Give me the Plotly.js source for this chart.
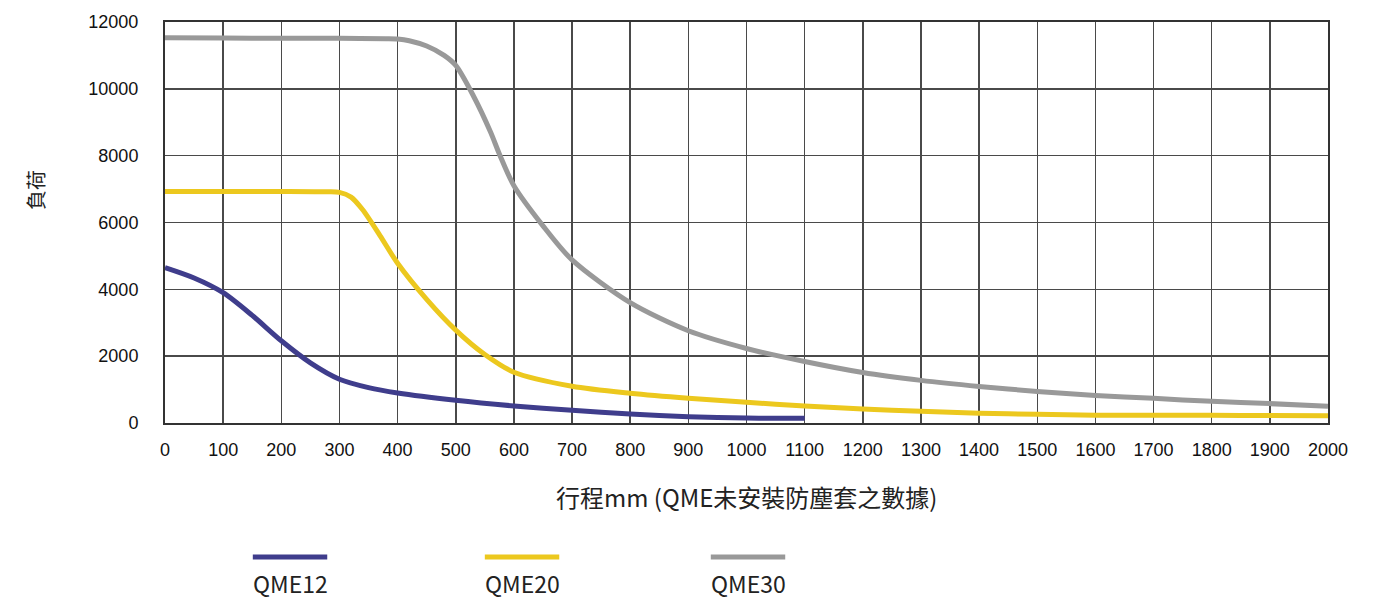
<!DOCTYPE html>
<html>
<head>
<meta charset="utf-8">
<script src="https://cdn.plot.ly/plotly-3.0.1.min.js"></script>
<style>html,body{margin:0;padding:0;background:#fff;}#chart{width:1395px;height:599px;}</style>
</head>
<body>
<div id="chart"></div>
<script>
const seriesNames = ["QME12", "QME20", "QME30"];
const seriesColors = ["#3f3d8c", "#ecc81e", "#999999"];

const x12 = [0, 50, 100, 150, 200, 250, 300, 350, 400, 500, 600, 700, 800, 900, 1000, 1100];
const y12 = [4650, 4340, 3900, 3220, 2460, 1800, 1310, 1060, 900, 680, 510, 380, 270, 190, 150, 140];

const x20 = [0, 100, 200, 280, 300, 320, 340, 370, 400, 450, 500, 550, 600, 700, 800, 900, 1000, 1100, 1200, 1300, 1400, 1500, 1600, 1700, 1800, 1900, 2000];
const y20 = [6930, 6930, 6930, 6920, 6900, 6760, 6380, 5600, 4780, 3700, 2780, 2050, 1520, 1100, 890, 740, 620, 510, 420, 350, 290, 260, 235, 230, 230, 225, 220];

const x30 = [0, 100, 200, 300, 380, 400, 420, 450, 480, 500, 530, 560, 575, 600, 650, 700, 800, 900, 1000, 1100, 1200, 1300, 1400, 1500, 1600, 1700, 1800, 1900, 2000];
const y30 = [11530, 11520, 11510, 11510, 11500, 11490, 11440, 11280, 11000, 10700, 9800, 8700, 8050, 7100, 5900, 4880, 3600, 2760, 2230, 1840, 1510, 1275, 1095, 945, 826, 737, 648, 580, 500];

const yTickVals = [0, 2000, 4000, 6000, 8000, 10000, 12000];
const xTickVals = [0, 100, 200, 300, 400, 500, 600, 700, 800, 900, 1000, 1100, 1200, 1300, 1400, 1500, 1600, 1700, 1800, 1900, 2000];
const xTitle = "行程mm (QME未安裝防塵套之數據)";
const yTitle = "負荷";

const xs = [x12, x20, x30];
const ys = [y12, y20, y30];

const traces = seriesNames.map((n, i) => ({
  x: xs[i], y: ys[i], name: n, type: "scatter", mode: "lines",
  line: {color: seriesColors[i], width: 5, shape: "spline", smoothing: 0.8},
  showlegend: false, hoverinfo: "skip"
}));

const legendX = [0.1075, 0.307, 0.5013];
const shapes = seriesNames.map((n, i) => ({
  type: "line", xref: "paper", yref: "paper",
  x0: legendX[i] - 0.032, x1: legendX[i] + 0.032, y0: -0.334, y1: -0.334,
  line: {color: seriesColors[i], width: 5}
}));
const annotations = seriesNames.map((n, i) => ({
  text: n, xref: "paper", yref: "paper", x: legendX[i], y: -0.4,
  xanchor: "center", yanchor: "middle", showarrow: false,
  font: {family: "Noto Sans CJK TC, Lato, sans-serif", size: 23, color: "#222"}
}));
annotations.push({
  text: yTitle, xref: "paper", yref: "paper", x: -0.1118, y: 0.581,
  xanchor: "center", yanchor: "middle", showarrow: false, textangle: -90,
  font: {family: "Noto Sans CJK TC, sans-serif", size: 20, color: "#222"}
});
annotations.push({
  text: xTitle, xref: "paper", yref: "paper", x: 0.5, y: -0.184,
  xanchor: "center", yanchor: "middle", showarrow: false,
  font: {family: "Noto Sans CJK TC, sans-serif", size: 24, color: "#222"}
});

const layout = {
  width: 1395, height: 599,
  margin: {l: 165, r: 67, t: 22, b: 176, pad: 0},
  paper_bgcolor: "#fff", plot_bgcolor: "#fff",
  xaxis: {
    range: [0, 2000], tickvals: xTickVals, ticktext: xTickVals.map(String),
    showgrid: true, gridcolor: "#4a4a4a", gridwidth: 1.5,
    showline: true, linecolor: "#333", linewidth: 2, mirror: true,
    zeroline: false, ticks: "", ticklabelstandoff: 9,
    tickfont: {family: "Liberation Sans, Arial, sans-serif", size: 18, color: "#111"}
  },
  yaxis: {
    range: [0, 12000], tickvals: yTickVals, ticktext: yTickVals.map(String),
    showgrid: true, gridcolor: "#4a4a4a", gridwidth: 1.5,
    showline: true, linecolor: "#333", linewidth: 2, mirror: true,
    zeroline: false, ticks: "", ticklabelstandoff: 21,
    tickfont: {family: "Liberation Sans, Arial, sans-serif", size: 18, color: "#111"}
  },
  shapes: shapes,
  annotations: annotations,
  showlegend: false
};

Plotly.newPlot("chart", traces, layout, {staticPlot: true, displayModeBar: false});
</script>
</body>
</html>
